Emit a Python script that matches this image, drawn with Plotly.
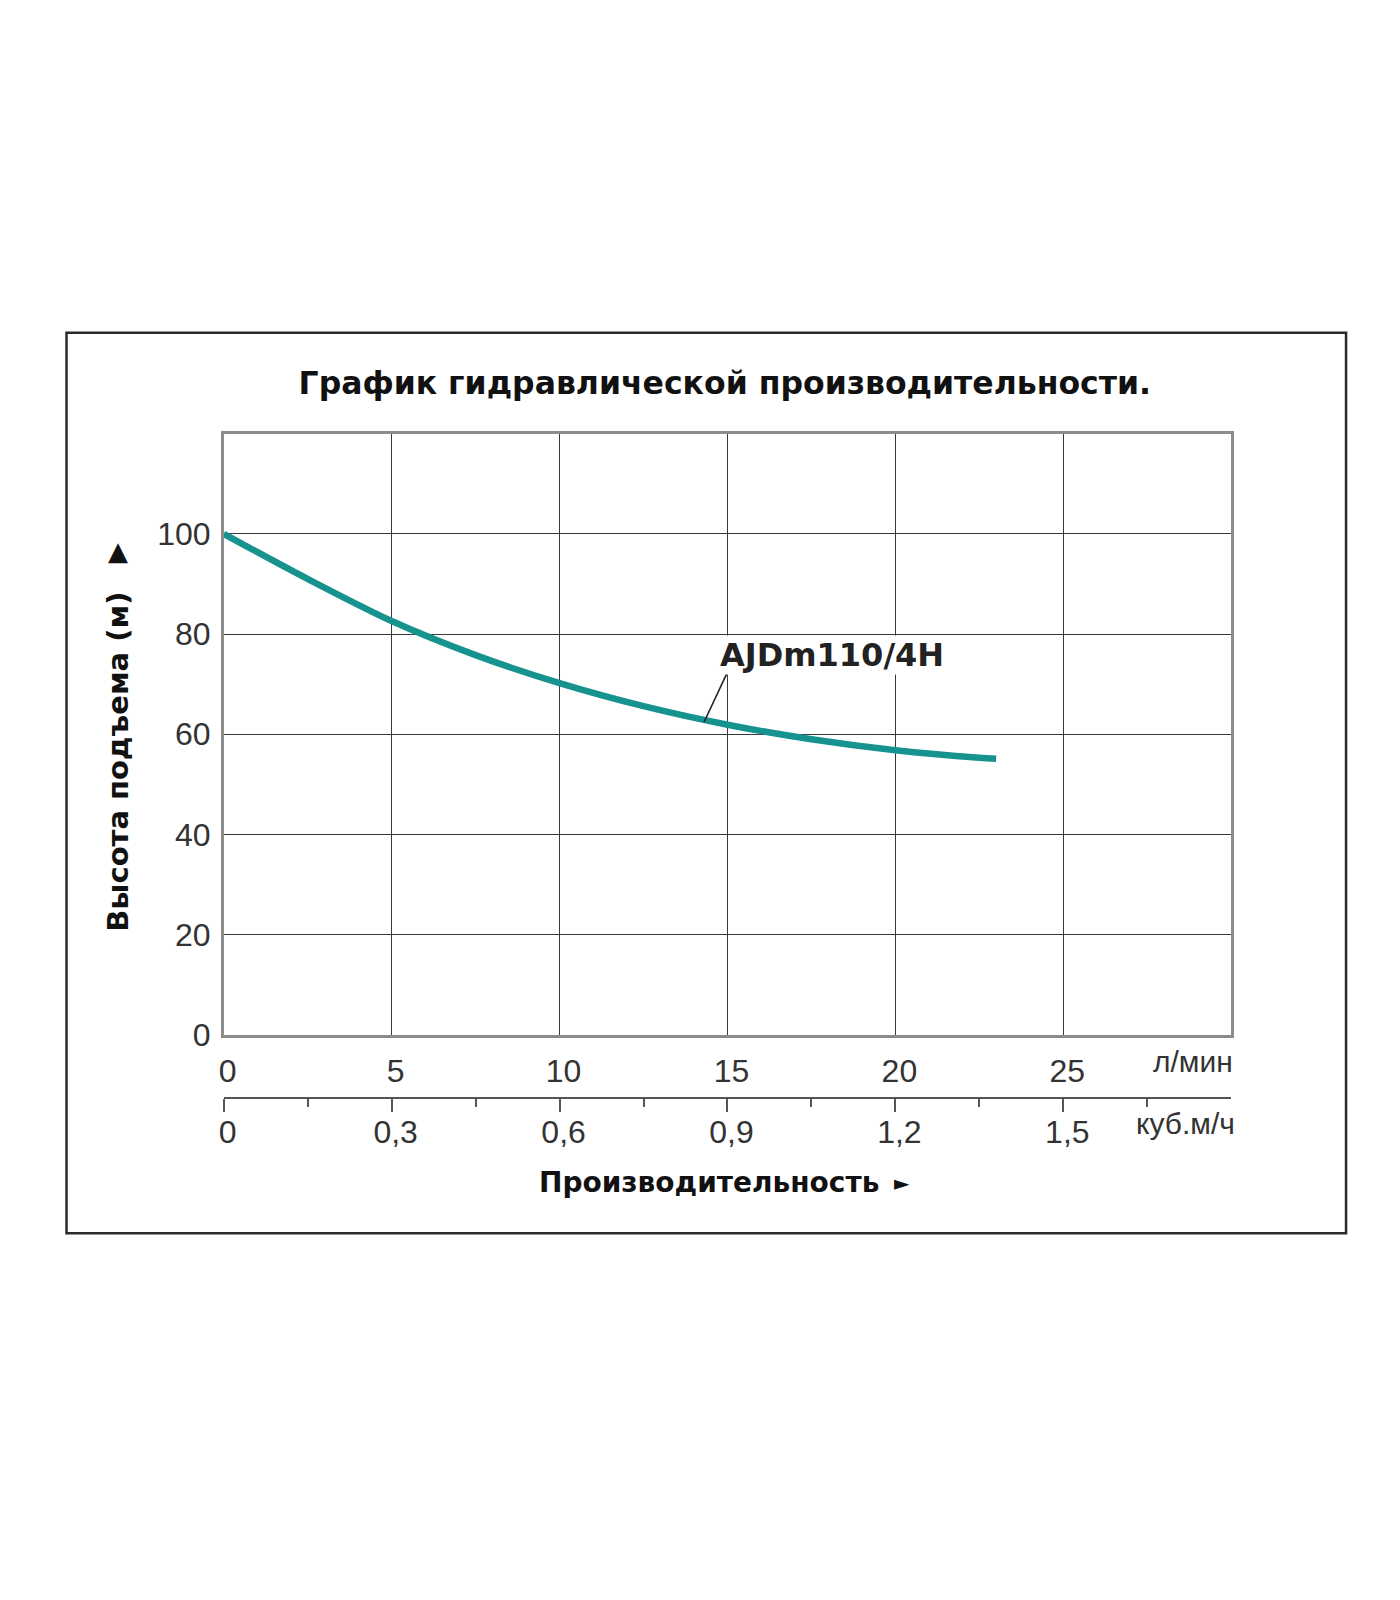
import plotly.graph_objects as go

# pump curve AJDm110/4H
flow_lmin = [0, 2.5, 5, 7.5, 10, 12.5, 15, 17.5, 20, 22.5, 23]
head_m = [100, 91.0, 82.6, 75.8, 70.2, 65.6, 61.9, 59.0, 56.8, 55.3, 55.1]

lmin_ticks = [0, 5, 10, 15, 20, 25]
lmin_labels = ["0", "5", "10", "15", "20", "25"]
head_ticks = [0, 20, 40, 60, 80, 100]
head_labels = ["0", "20", "40", "60", "80", "100"]
m3h_ticks = [0, 0.3, 0.6, 0.9, 1.2, 1.5]
m3h_labels = ["0", "0,3", "0,6", "0,9", "1,2", "1,5"]
m3h_minor = [0.15, 0.45, 0.75, 1.05, 1.35, 1.65]

model_name = "AJDm110/4H"
title_text = "График гидравлической производительности."
ytitle_text = "Высота подъема (м)"
xtitle_text = "Производительность"

# page body has an 8px margin, so the figure is 16px smaller than the window
OFF = 8
W, H = 1400 - 2 * OFF, 1600 - 2 * OFF
BOLD = "DejaVu Sans"
TICK = "Liberation Sans, Arial"
NARROW = "Liberation Sans Narrow, Liberation Sans, Arial"
CURVE = "#17938f"
GRID = "#3a3a3a"


def px(x):
    # screenshot pixel -> paper x (small empirical correction)
    return ((x - 3.4) / 0.9983 - OFF) / W


def py(y):
    # screenshot pixel -> paper y (small empirical correction)
    return 1 - ((y - 0.9) / 0.987 - OFF) / H


fig = go.Figure()

fig.add_trace(go.Scatter(x=flow_lmin, y=head_m, mode="lines",
                         line=dict(color=CURVE, width=6.5, shape="spline", smoothing=0.8),
                         hoverinfo="skip"))

fig.update_layout(
    width=W, height=H,
    margin=dict(l=0, r=0, t=0, b=0),
    paper_bgcolor="white", plot_bgcolor="white",
    showlegend=False,
    separators=", ",
    title=dict(text=f"<b>{title_text}</b>", x=px(727), y=py(379),
               xanchor="center", yanchor="middle",
               font=dict(family=BOLD, size=31.5, color="#111")),
    xaxis=dict(domain=[px(222.5), px(1232)], range=[0, 30], anchor="y",
               tickvals=lmin_ticks, ticktext=lmin_labels, ticks="",
               showgrid=True, gridcolor=GRID, gridwidth=1.4, zeroline=False,
               showline=True, mirror=True, linecolor="#8c8c8c", linewidth=2.5,
               tickfont=dict(family=TICK, size=32, color="#333"),
               ticklabelstandoff=6, ticklabelshift=4),
    xaxis2=dict(overlaying="x", anchor="free", position=py(1097), range=[0, 1.8],
                side="bottom", showgrid=False, zeroline=False,
                showline=True, linecolor="#555", linewidth=1.5,
                tickvals=m3h_ticks, ticktext=m3h_labels,
                ticks="outside", ticklen=13, tickwidth=1.5, tickcolor="#555",
                minor=dict(tickvals=m3h_minor, ticks="outside", ticklen=8,
                           tickwidth=1.5, tickcolor="#555"),
                tickfont=dict(family=TICK, size=32, color="#333"),
                ticklabelstandoff=-7, ticklabelshift=4),
    yaxis=dict(domain=[py(1034), py(433.7)], range=[0, 120], anchor="x",
               tickvals=head_ticks, ticktext=head_labels, ticks="",
               showgrid=True, gridcolor=GRID, gridwidth=1.4, zeroline=False,
               showline=True, mirror=True, linecolor="#8c8c8c", linewidth=2.5,
               tickfont=dict(family=TICK, size=32, color="#333"),
               ticklabelstandoff=4),
)

# dummy trace so the m3/h axis gets drawn
fig.add_trace(go.Scatter(x=m3h_ticks, y=[None] * len(m3h_ticks), xaxis="x2", yaxis="y",
                         mode="lines", hoverinfo="skip", showlegend=False))

# outer frame
fig.add_shape(type="rect", xref="paper", yref="paper",
              x0=px(65), x1=px(1347), y0=py(1232), y1=py(333),
              line=dict(color="#2a2a2a", width=2.5), fillcolor="rgba(0,0,0,0)")

# leader from curve to the model label
fig.add_shape(type="line", xref="x", yref="y", x0=14.3, y0=62.4, x1=15.0, y1=72.4,
              line=dict(color="#222", width=1.6))

fig.add_annotation(x=14.75, y=75.9, xref="x", yref="y", xanchor="left", yanchor="middle",
                   text=f"<b>{model_name}</b>", showarrow=False,
                   bgcolor="white", borderpad=0,
                   font=dict(family=BOLD, size=32, color="#222"))

# axis titles
fig.add_annotation(x=px(117), y=py(761), xref="paper", yref="paper",
                   xanchor="center", yanchor="middle",
                   text=f"<b>{ytitle_text}</b>", textangle=-90, showarrow=False,
                   font=dict(family=BOLD, size=29, color="#111"))
fig.add_annotation(x=px(117), y=py(551), xref="paper", yref="paper",
                   xanchor="center", yanchor="middle",
                   text="▲", showarrow=False,
                   font=dict(family=BOLD, size=26, color="#111"))
fig.add_annotation(x=px(536), y=py(1181), xref="paper", yref="paper",
                   xanchor="left", yanchor="middle",
                   text=f"<b>{xtitle_text}</b>", showarrow=False,
                   font=dict(family=BOLD, size=28, color="#111"))
fig.add_annotation(x=px(902), y=py(1182), xref="paper", yref="paper",
                   xanchor="center", yanchor="middle",
                   text="►", showarrow=False,
                   font=dict(family=BOLD, size=20, color="#111"))

# unit labels
fig.add_annotation(x=px(1236), y=py(1061), xref="paper", yref="paper",
                   xanchor="right", yanchor="middle",
                   text="л/мин", showarrow=False,
                   font=dict(family=NARROW, size=30, color="#333"))
fig.add_annotation(x=px(1238), y=py(1122), xref="paper", yref="paper",
                   xanchor="right", yanchor="middle",
                   text="куб.м/ч", showarrow=False,
                   font=dict(family=NARROW, size=30, color="#333"))

fig.write_html("out.html")
